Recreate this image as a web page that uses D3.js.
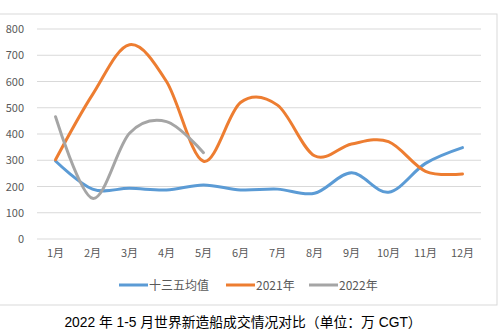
<!DOCTYPE html>
<html><head><meta charset="utf-8">
<script src="https://cdn.jsdelivr.net/npm/d3@7"></script>
<style>body{margin:0;background:#fff}svg{display:block}</style>
</head><body>
<svg id="c" width="500" height="333"></svg>
<script>
const months = ["1月","2月","3月","4月","5月","6月","7月","8月","9月","10月","11月","12月"];
const avg135 = [297,190,193,187,206,187,190,174,252,178,288,348];
const y2021 = [302,550,740,600,296,520,510,317,362,371,258,248];
const y2022 = [466,155,403,447,329];
const yTicks = [0,100,200,300,400,500,600,700,800];
const seriesNames = ["十三五均值","2021年","2022年"];
const colors = ["#5B9BD5","#ED7D31","#A5A5A5"];
const title = "2022 年 1-5 月世界新造船成交情况对比（单位：万 CGT）";

const svg = d3.select("#c");
const font = "'Microsoft YaHei','Noto Sans CJK SC',sans-serif";
svg.append("rect").attr("x",-1).attr("y",14).attr("width",498).attr("height",291)
  .attr("fill","#fff").attr("stroke","#d9d9d9");

const x = d3.scaleBand().domain(months).range([37,481]);
const y = d3.scaleLinear().domain([0,800]).range([239,29]);

svg.append("g").selectAll("line").data(yTicks).join("line")
  .attr("x1",37).attr("x2",481).attr("y1",d=>y(d)).attr("y2",d=>y(d))
  .attr("stroke","#d9d9d9").attr("stroke-width",1);

const yAxis = svg.append("g").attr("transform","translate(37,0)")
  .call(d3.axisLeft(y).tickValues(yTicks).tickSize(0).tickPadding(13));
yAxis.select(".domain").remove();
yAxis.selectAll("text").attr("fill","#595959").style("font-size","11px").style("font-family",font);

const xAxis = svg.append("g").attr("transform","translate(0,239)")
  .call(d3.axisBottom(x).tickSize(0).tickPadding(10));
xAxis.select(".domain").remove();
xAxis.selectAll("text").attr("fill","#595959").style("font-size","11px").style("font-family",font);

const line = d3.line().x((d,i)=>x(months[i])+x.bandwidth()/2).y(d=>y(d)).curve(d3.curveCatmullRom.alpha(0));
[avg135,y2021,y2022].forEach((s,k)=>{
  svg.append("path").datum(s).attr("d",line).attr("fill","none")
    .attr("stroke",colors[k]).attr("stroke-width",3).attr("stroke-linecap","round").attr("stroke-linejoin","round");
});

const lx = [119,226,309];
seriesNames.forEach((n,k)=>{
  svg.append("line").attr("x1",lx[k]).attr("x2",lx[k]+29).attr("y1",285).attr("y2",285)
    .attr("stroke",colors[k]).attr("stroke-width",3);
  svg.append("text").attr("x",lx[k]+30).attr("y",289.5).text(n)
    .attr("fill","#595959").style("font-size","12px").style("font-family",font);
});

svg.append("text").attr("x",243).attr("y",327).attr("text-anchor","middle").text(title)
  .attr("fill","#000").style("font-size","13.8px").style("font-family","'Liberation Sans','Noto Sans CJK SC',sans-serif");
</script>
</body></html>
